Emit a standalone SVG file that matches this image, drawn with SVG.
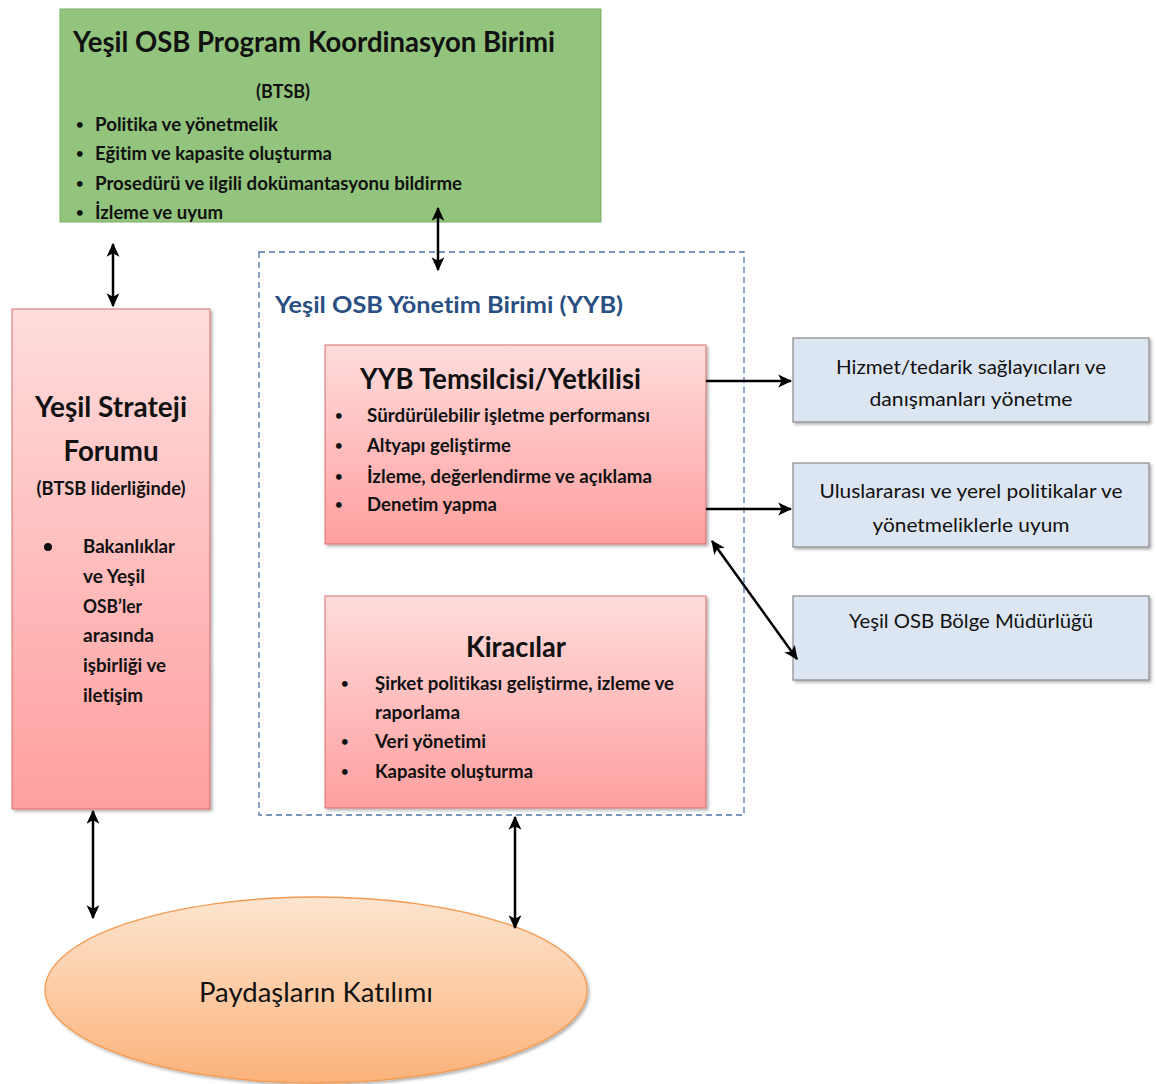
<svg xmlns="http://www.w3.org/2000/svg" width="1156" height="1084" viewBox="0 0 1156 1084">
<defs>
<linearGradient id="pink" x1="0" y1="0" x2="0" y2="1">
<stop offset="0" stop-color="#ffdcdc"/><stop offset="1" stop-color="#ff9f9f"/>
</linearGradient>
<linearGradient id="orange" x1="0" y1="0" x2="0" y2="1">
<stop offset="0" stop-color="#fde5d0"/><stop offset="1" stop-color="#fbb27a"/>
</linearGradient>
<filter id="sh" x="-10%" y="-10%" width="130%" height="130%">
<feDropShadow dx="2" dy="2" stdDeviation="1.5" flood-color="#000" flood-opacity="0.3"/>
</filter>
<marker id="ah" viewBox="0 0 12 12" refX="11" refY="6" markerWidth="14" markerHeight="14" markerUnits="userSpaceOnUse" orient="auto-start-reverse">
<path d="M0,0.5 L12,6 L0,11.5 L3,6 Z" fill="#000"/>
</marker>
</defs>
<style>
text{font-variant-ligatures:none;font-feature-settings:"liga" 0,"dlig" 0}
.b{font-family:Lato,"Liberation Sans",sans-serif;font-weight:bold;fill:#111}
.r{font-family:Lato,"Liberation Sans",sans-serif;font-weight:normal;fill:#111}
.t{font-size:28px}
.s{font-size:18px}
.d{font-size:13px}
.m{font-size:20px}
.pink{fill:url(#pink);stroke:#d9706f;stroke-width:1;filter:url(#sh)}
.blue{fill:#dce6f2;stroke:#8a8a8a;stroke-width:1.2;filter:url(#sh)}
.con{stroke:#000;stroke-width:2.5;fill:none}
</style>
<rect width="1156" height="1084" fill="#fff"/>

<g id="btsb">
<rect x="60" y="9" width="541" height="213" fill="#93c47d" stroke="#7bad66" stroke-width="1"/>
<text class="b t" x="73" y="52" textLength="482" lengthAdjust="spacingAndGlyphs">Yeşil OSB Program Koordinasyon Birimi</text>
<text class="b s" x="256" y="98" textLength="54" lengthAdjust="spacingAndGlyphs">(BTSB)</text>
<text class="b d" x="76" y="129">•</text>
<text class="b s" x="95" y="131" textLength="183" lengthAdjust="spacingAndGlyphs">Politika ve yönetmelik</text>
<text class="b d" x="76" y="158">•</text>
<text class="b s" x="95" y="160" textLength="237" lengthAdjust="spacingAndGlyphs">Eğitim ve kapasite oluşturma</text>
<text class="b d" x="76" y="188">•</text>
<text class="b s" x="95" y="190" textLength="367" lengthAdjust="spacingAndGlyphs">Prosedürü ve ilgili dokümantasyonu bildirme</text>
<text class="b d" x="76" y="217">•</text>
<text class="b s" x="95" y="219" textLength="128" lengthAdjust="spacingAndGlyphs">İzleme ve uyum</text>
</g>

<g id="forum">
<rect class="pink" x="12" y="309" width="198" height="500"/>
<text class="b t" x="111" y="417" text-anchor="middle" textLength="152" lengthAdjust="spacingAndGlyphs">Yeşil Strateji</text>
<text class="b t" x="111" y="461" text-anchor="middle" textLength="95" lengthAdjust="spacingAndGlyphs">Forumu</text>
<text class="b s" x="111" y="495" text-anchor="middle" textLength="149" lengthAdjust="spacingAndGlyphs">(BTSB liderliğinde)</text>
<circle cx="48" cy="547" r="4" fill="#111"/>
<text class="b s" x="83" y="553" textLength="92" lengthAdjust="spacingAndGlyphs">Bakanlıklar</text>
<text class="b s" x="83" y="583" textLength="62" lengthAdjust="spacingAndGlyphs">ve Yeşil</text>
<text class="b s" x="83" y="613" textLength="59" lengthAdjust="spacingAndGlyphs">OSB’ler</text>
<text class="b s" x="83" y="642" textLength="71" lengthAdjust="spacingAndGlyphs">arasında</text>
<text class="b s" x="83" y="672" textLength="83" lengthAdjust="spacingAndGlyphs">işbirliği ve</text>
<text class="b s" x="83" y="702" textLength="60" lengthAdjust="spacingAndGlyphs">iletişim</text>
</g>

<g id="yyb">
<rect x="259" y="252" width="485" height="563" fill="none" stroke="#4f74a8" stroke-width="1.3" stroke-dasharray="6,4"/>
<text class="b" x="275" y="313" font-size="22" style="fill:#2a4f82" textLength="348" lengthAdjust="spacingAndGlyphs">Yeşil OSB Yönetim Birimi (YYB)</text>
</g>

<g id="temsilci">
<rect class="pink" x="325" y="345" width="381" height="199"/>
<text class="b t" x="360" y="389" textLength="281" lengthAdjust="spacingAndGlyphs">YYB Temsilcisi/Yetkilisi</text>
<text class="b d" x="335" y="420">•</text>
<text class="b s" x="367" y="422" textLength="283" lengthAdjust="spacingAndGlyphs">Sürdürülebilir işletme performansı</text>
<text class="b d" x="335" y="450">•</text>
<text class="b s" x="367" y="452" textLength="144" lengthAdjust="spacingAndGlyphs">Altyapı geliştirme</text>
<text class="b d" x="335" y="481">•</text>
<text class="b s" x="367" y="483" textLength="285" lengthAdjust="spacingAndGlyphs">İzleme, değerlendirme ve açıklama</text>
<text class="b d" x="335" y="509">•</text>
<text class="b s" x="367" y="511" textLength="130" lengthAdjust="spacingAndGlyphs">Denetim yapma</text>
</g>

<g id="kiracilar">
<rect class="pink" x="325" y="596" width="381" height="212"/>
<text class="b t" x="466" y="657" textLength="100" lengthAdjust="spacingAndGlyphs">Kiracılar</text>
<text class="b d" x="341" y="688">•</text>
<text class="b s" x="375" y="690" textLength="299" lengthAdjust="spacingAndGlyphs">Şirket politikası geliştirme, izleme ve</text>
<text class="b s" x="375" y="719" textLength="85" lengthAdjust="spacingAndGlyphs">raporlama</text>
<text class="b d" x="341" y="746">•</text>
<text class="b s" x="375" y="748" textLength="111" lengthAdjust="spacingAndGlyphs">Veri yönetimi</text>
<text class="b d" x="341" y="776">•</text>
<text class="b s" x="375" y="778" textLength="158" lengthAdjust="spacingAndGlyphs">Kapasite oluşturma</text>
</g>

<g id="hizmet">
<rect class="blue" x="793" y="338" width="356" height="84"/>
<text class="r m" x="971" y="374" text-anchor="middle" textLength="270" lengthAdjust="spacingAndGlyphs">Hizmet/tedarik sağlayıcıları ve</text>
<text class="r m" x="971" y="406" text-anchor="middle" textLength="203" lengthAdjust="spacingAndGlyphs">danışmanları yönetme</text>
</g>

<g id="uyum">
<rect class="blue" x="793" y="463" width="356" height="84"/>
<text class="r m" x="971" y="498" text-anchor="middle" textLength="303" lengthAdjust="spacingAndGlyphs">Uluslararası ve yerel politikalar ve</text>
<text class="r m" x="971" y="532" text-anchor="middle" textLength="197" lengthAdjust="spacingAndGlyphs">yönetmeliklerle uyum</text>
</g>

<g id="bolge">
<rect class="blue" x="793" y="596" width="356" height="84"/>
<text class="r m" x="971" y="628" text-anchor="middle" textLength="244" lengthAdjust="spacingAndGlyphs">Yeşil OSB Bölge Müdürlüğü</text>
</g>

<g id="paydas">
<ellipse cx="316" cy="990" rx="271" ry="93" fill="url(#orange)" stroke="#f59a50" stroke-width="1.3" filter="url(#sh)"/>
<text class="r" x="316" y="1002" font-size="26" text-anchor="middle" textLength="234" lengthAdjust="spacingAndGlyphs">Paydaşların Katılımı</text>
</g>

<g id="connectors">
<line class="con" x1="438" y1="208" x2="438" y2="270" marker-start="url(#ah)" marker-end="url(#ah)"/>
<line class="con" x1="113" y1="244" x2="113" y2="306" marker-start="url(#ah)" marker-end="url(#ah)"/>
<line class="con" x1="93" y1="811" x2="93" y2="918" marker-start="url(#ah)" marker-end="url(#ah)"/>
<line class="con" x1="515" y1="817" x2="515" y2="928" marker-start="url(#ah)" marker-end="url(#ah)"/>
<line class="con" x1="706" y1="381" x2="791" y2="381" marker-end="url(#ah)"/>
<line class="con" x1="706" y1="509" x2="791" y2="509" marker-end="url(#ah)"/>
<line class="con" x1="712" y1="541" x2="797" y2="659" marker-start="url(#ah)" marker-end="url(#ah)"/>
</g>
</svg>
